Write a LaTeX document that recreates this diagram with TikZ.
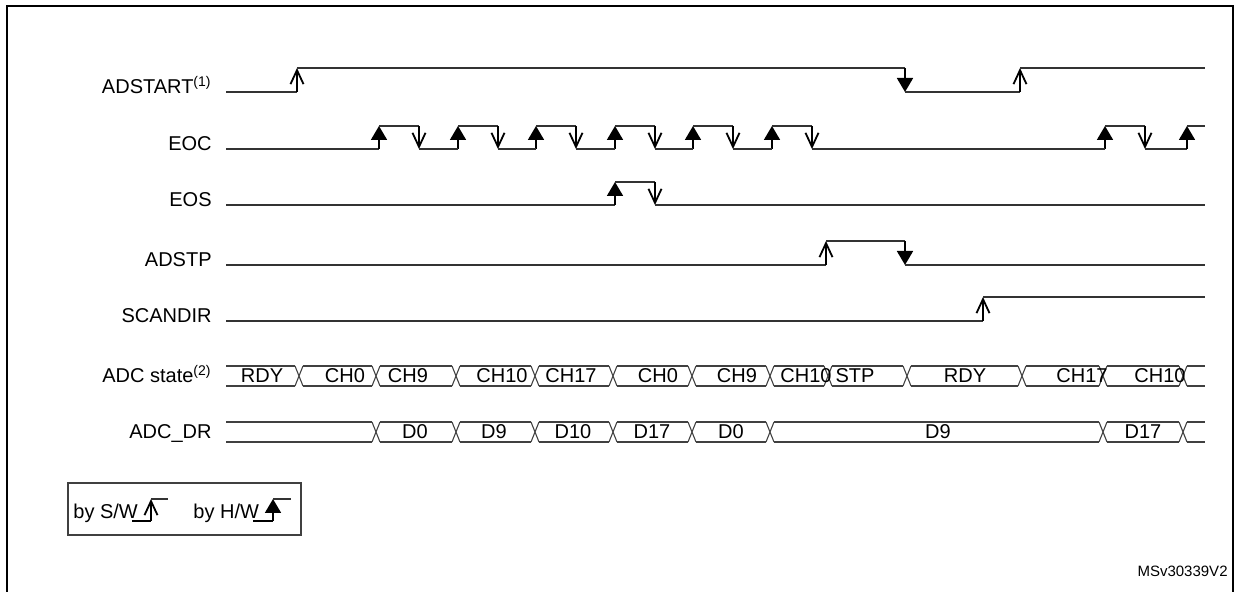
\documentclass[tikz,border=0pt]{standalone}
\usepackage{fontspec}
\setmainfont{Liberation Sans}
\usetikzlibrary{arrows.meta}
\tikzset {
  >=Stealth,
  every node/.style={font=\fontsize{10}{12}\selectfont,inner sep=0pt},
  sig/.style={anchor=base east},
  wave/.style={black!80,line width=0.65pt},
  bus/.style={black!75,line width=0.55pt},
  sw/.style={black,line width=0.9pt,-{Straight Barb[length=7pt,width=6.5pt]}},
  hw/.style={black,line width=0.9pt,-{Triangle[length=7pt,width=8pt]}},
}
\begin{document}
\begin{tikzpicture}[x=0.5pt,y=-0.5pt]
  \useasboundingbox (0,0) rectangle (1239,592);
  \draw[line width=1.4pt] (7,600) -- (7,6) -- (1233,6) -- (1233,600);
  \node (adstart) at (212,94)[sig]{ADSTART\textsuperscript{(1)}};
  \node (eoc) at (212,151)[sig]{EOC};
  \node (eos) at (212,207)[sig]{EOS};
  \node (adstp) at (212,267)[sig]{ADSTP};
  \node (scandir) at (212,323)[sig]{SCANDIR};
  \node (state) at (212,383)[sig]{ADC state\textsuperscript{(2)}};
  \node (dr) at (212,439)[sig]{ADC\_DR};
  \draw[wave] (226,92) -- (297,92);
  \draw[sw] (297,92) -- (297,68);
  \draw[wave] (297,68) -- (905,68);
  \draw[hw] (905,68) -- (905,92);
  \draw[wave] (905,92) -- (1020,92);
  \draw[sw] (1020,92) -- (1020,68);
  \draw[wave] (1020,68) -- (1205,68);
  \draw[wave] (226,149) -- (379,149);
  \foreach \x in {379,458,536,615,693,772,1105} {
    \draw[hw] (\x,149) -- (\x,126);
    \draw[wave] (\x,126) -- (\x+40,126);
    \draw[sw] (\x+40,126) -- (\x+40,149);
  }
  \foreach \a/\b in {419/458,498/536,576/615,655/693,733/772,812/1105,1145/1187}
    \draw[wave] (\a,149) -- (\b,149);
  \draw[hw] (1187,149) -- (1187,126);
  \draw[wave] (1187,126) -- (1205,126);
  \draw[wave] (226,205) -- (615,205);
  \draw[hw] (615,205) -- (615,182);
  \draw[wave] (615,182) -- (655,182);
  \draw[sw] (655,182) -- (655,205);
  \draw[wave] (655,205) -- (1205,205);
  \draw[wave] (226,265) -- (826,265);
  \draw[sw] (826,265) -- (826,241);
  \draw[wave] (826,241) -- (905,241);
  \draw[hw] (905,241) -- (905,265);
  \draw[wave] (905,265) -- (1205,265);
  \draw[wave] (226,321) -- (983,321);
  \draw[sw] (983,321) -- (983,297);
  \draw[wave] (983,297) -- (1205,297);
  \foreach \a/\b in {222/299,299/376,376/456,456/535,535/613,613/692,692/770,770/828,828/907,907/1022,1022/1103,1103/1183,1183/1209}
    \draw[bus] (\a+4,366) -- (\b-4,366) (\a+4,386) -- (\b-4,386);
  \foreach \x in {299,376,456,535,613,692,770,828,907,1022,1103,1183}
    \draw[bus] (\x-4,366) -- (\x+4,386) (\x-4,386) -- (\x+4,366);
  \foreach \x/\t in {262/RDY,345/CH0,408/CH9,502/CH10,571/CH17,658/CH0,737/CH9,806/CH10,855/STP,965/RDY,1082/CH17,1160/CH10}
    \node (st\x) at (\x,376){\t};
  \foreach \a/\b in {222/376,376/456,456/535,535/613,613/692,692/770,770/1103,1103/1183,1183/1209}
    \draw[bus] (\a+4,422) -- (\b-4,422) (\a+4,442) -- (\b-4,442);
  \foreach \x in {376,456,535,613,692,770,1103,1183}
    \draw[bus] (\x-4,422) -- (\x+4,442) (\x-4,442) -- (\x+4,422);
  \foreach \x/\t in {415/D0,494/D9,573/D10,652/D17,731/D0,938/D9,1143/D17}
    \node (dr\x) at (\x,432){\t};
  \draw[bus] (68,483) rectangle (301,535);
  \node (bysw) at (73,519)[anchor=base west]{by S/W};
  \draw[line width=1pt] (132,521) -- (151,521);
  \draw[sw] (151,521) -- (151,499);
  \draw[wave] (151,499) -- (168,499);
  \node (byhw) at (193,519)[anchor=base west]{by H/W};
  \draw[line width=1pt] (253,521) -- (273,521);
  \draw[hw] (273,521) -- (273,499);
  \draw[wave] (273,499) -- (291,499);
  \node (ref) at (1228,577)[anchor=base east,font=\fontsize{7.5}{9}\selectfont]{MSv30339V2};
\end{tikzpicture}
\end{document}
